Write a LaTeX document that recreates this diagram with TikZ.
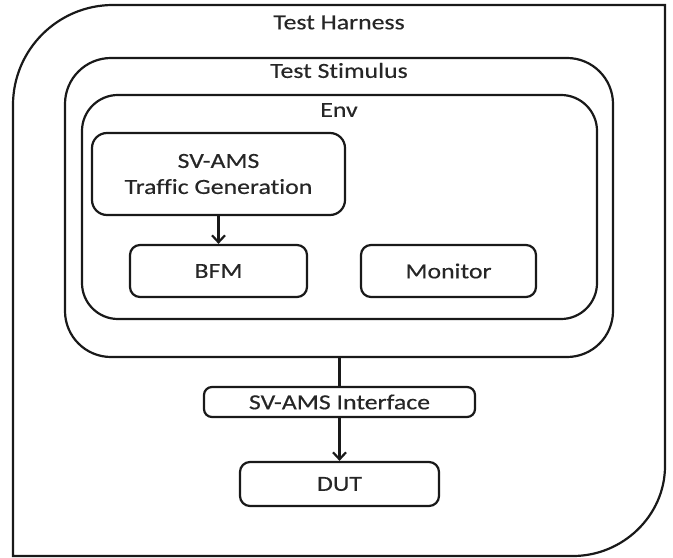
\documentclass[tikz,border=0pt]{standalone}
\usepackage{fontspec}
\setmainfont[FakeStretch=1.2, Ligatures=NoCommon, FakeBold=0.4]{Carlito}
\usetikzlibrary{arrows.meta}
\begin{document}
\begin{tikzpicture}[x=1bp,y=-1bp,
  frame/.style={draw=black!90, line width=2.2bp},
  blk/.style={frame, rounded corners=#1, inner sep=0pt, align=center,
    font=\fontsize{21.5bp}{26bp}\selectfont, text=black!85},
  blk/.default=10bp,
  lbl/.style={font=\fontsize{21.5bp}{26bp}\selectfont, text=black!85, inner sep=0pt},
  flow/.style={line width=2.2bp, draw=black!90,
    -{Straight Barb[length=7bp,width=13bp,line width=2.2bp]}}]
  \useasboundingbox (0,0) rectangle (673,558);

  % outer harness: rounded top-left and bottom-right corners only
  \draw[frame] (13,556) -- (13,105)
    .. controls (13,49.8) and (57.8,5) .. (113,5)
    -- (665,5) -- (665,466)
    .. controls (665,515.7) and (622.7,556) .. (573,556) -- cycle;
  \node[lbl] (tharness) at (339,22.5) {Test Harness};

  % stimulus and environment containers
  \node[blk=46bp, minimum width=548bp, minimum height=299bp] (stim) at (339,207.5) {};
  \node[lbl] (tstim) at (339,70.5) {Test Stimulus};
  \node[blk=36bp, minimum width=515bp, minimum height=224bp] (env) at (339.5,207) {};
  \node[lbl] (tenv) at (339,110) {Env};

  % blocks inside the environment
  \node[blk=15bp, minimum width=253bp, minimum height=82bp] (tg) at (218.5,174)
    {SV-AMS\\Traffic Generation};
  \node[blk, minimum width=177bp, minimum height=52bp] (bfm) at (218.5,271) {BFM};
  \node[blk, minimum width=175bp, minimum height=52bp] (mon) at (448.5,271) {Monitor};

  % interface and device under test
  \node[blk=8bp, minimum width=271bp, minimum height=30bp] (iface) at (339.5,402)
    {SV-AMS Interface};
  \node[blk, minimum width=199bp, minimum height=44bp] (dut) at (339.5,484) {DUT};

  % connectors
  \draw[flow] (tg.south) -- (bfm.north);
  \draw[line width=2.2bp, draw=black!90] (stim.south -| iface.north) -- (iface.north);
  \draw[flow] (iface.south) -- (dut.north);
\end{tikzpicture}
\end{document}
